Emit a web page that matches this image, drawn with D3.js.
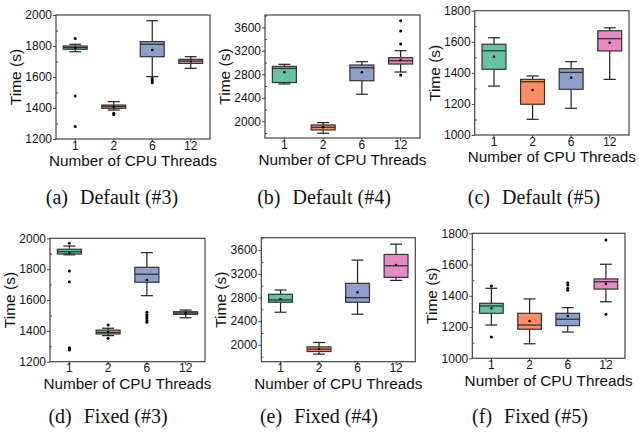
<!DOCTYPE html>
<html><head><meta charset="utf-8">
<script src="https://cdn.jsdelivr.net/npm/d3@7"></script>
<style>
html,body{margin:0;padding:0;background:#fff;}
svg{display:block;}
</style></head>
<body>
<svg id="chart" width="639" height="432"></svg>
<script>
// ---------- DATA ----------
const categories = ["1", "2", "6", "12"];
const boxColors = ["#66c2a5", "#fc8d62", "#8da0cb", "#e78ac3"];

// each entry: lo whisker, q1, median, q3, hi whisker, mean, outliers
const defaultT3 = [
  {lo:1763, q1:1779, med:1790, q3:1800, hi:1811, mean:1786, out:[1848, 1477, 1280]},
  {lo:1387, q1:1398, med:1410, q3:1419, hi:1441, mean:1408, out:[1366, 1357]},
  {lo:1602, q1:1731, med:1811, q3:1828, hi:1963, mean:1774, out:[1590, 1576, 1563]},
  {lo:1656, q1:1688, med:1703, q3:1714, hi:1731, mean:1700, out:[]}
];
const defaultT4 = [
  {lo:2635, q1:2660, med:2900, q3:2935, hi:2970, mean:2834, out:[]},
  {lo:1796, q1:1852, med:1898, q3:1937, hi:1977, mean:1900, out:[]},
  {lo:2460, q1:2691, med:2912, q3:2958, hi:3015, mean:2834, out:[]},
  {lo:2839, q1:2975, med:3031, q3:3083, hi:3202, mean:3040, out:[2788, 3316, 3537, 3712]}
];
const defaultT5 = [
  {lo:1315, q1:1423, med:1542, q3:1584, hi:1626, mean:1504, out:[]},
  {lo:1101, q1:1198, med:1343, q3:1358, hi:1380, mean:1290, out:[]},
  {lo:1172, q1:1294, med:1403, q3:1427, hi:1472, mean:1369, out:[]},
  {lo:1358, q1:1541, med:1620, q3:1671, hi:1690, mean:1594, out:[]}
];
const fixedT3 = [
  {lo:1893, q1:1898, med:1913, q3:1929, hi:1950, mean:1905, out:[1968, 1788, 1719, 1291, 1284, 1276]},
  {lo:1369, q1:1380, med:1390, q3:1405, hi:1417, mean:1392, out:[1438, 1352]},
  {lo:1628, q1:1715, med:1767, q3:1812, hi:1907, mean:1730, out:[1520, 1505, 1492, 1480, 1465, 1455]},
  {lo:1485, q1:1507, med:1516, q3:1524, hi:1535, mean:1515, out:[]}
];
const fixedT4 = [
  {lo:2551, q1:2719, med:2758, q3:2854, hi:2926, mean:2775, out:[]},
  {lo:1843, q1:1887, med:1927, q3:1966, hi:2039, mean:1930, out:[]},
  {lo:2517, q1:2719, med:2797, q3:3039, hi:3432, mean:2887, out:[]},
  {lo:3089, q1:3140, med:3336, q3:3527, hi:3701, mean:3347, out:[]}
];
const fixedT5 = [
  {lo:1213, q1:1288, med:1335, q3:1352, hi:1448, mean:1320, out:[1463, 1136]},
  {lo:1093, q1:1186, med:1213, q3:1288, hi:1380, mean:1239, out:[]},
  {lo:1168, q1:1209, med:1250, q3:1288, hi:1324, mean:1271, out:[1484, 1469, 1448, 1435]},
  {lo:1362, q1:1443, med:1490, q3:1508, hi:1602, mean:1477, out:[1757, 1282]}
];

const ticksT3 = [1200, 1400, 1600, 1800, 2000];
const ticksT4 = [2000, 2400, 2800, 3200, 3600];
const ticksT5 = [1000, 1200, 1400, 1600, 1800];
const minorT3 = [1300, 1500, 1700, 1900];
const minorT4 = [1800, 2200, 2600, 3000, 3400, 3800];
const minorT5 = [1100, 1300, 1500, 1700];
const domainT3 = [1200, 2000];
const domainT4 = [1715, 3810];
const domainT5 = [1000, 1800];

const captions = [
  ["(a)", "Default (#3)"], ["(b)", "Default (#4)"], ["(c)", "Default (#5)"],
  ["(d)", "Fixed (#3)"], ["(e)", "Fixed (#4)"], ["(f)", "Fixed (#5)"]
];
const xTitle = "Number of CPU Threads";
const yTitle = "Time (s)";

// ---------- LAYOUT ----------
const layout = [
  {x0:56,    x1:210,   y0:15,    y1:139,   capX:112, capY:204},
  {x0:265,   x1:420,   y0:15,    y1:138,   capX:324, capY:204},
  {x0:474.7, x1:629,   y0:10.7,  y1:135,   capX:534, capY:204},
  {x0:50,    x1:205,   y0:238.3, y1:361.7, capX:108, capY:423},
  {x0:261.3, x1:415.3, y0:237.7, y1:361.7, capX:319, capY:423},
  {x0:472.3, x1:625,   y0:233.3, y1:358.3, capX:530, capY:423}
];
const panelData = [defaultT3, defaultT4, defaultT5, fixedT3, fixedT4, fixedT5];
const panelTicks = [ticksT3, ticksT4, ticksT5, ticksT3, ticksT4, ticksT5];
const panelMinor = [minorT3, minorT4, minorT5, minorT3, minorT4, minorT5];
const panelDomain = [domainT3, domainT4, domainT5, domainT3, domainT4, domainT5];

const svg = d3.select("#chart");
const sans = "'Liberation Sans', Arial, sans-serif";
const serif = "'Liberation Serif', 'Times New Roman', serif";

panelData.forEach((data, pi) => {
  const L = layout[pi];
  const g = svg.append("g");
  const x = d3.scaleBand().domain(categories).range([L.x0, L.x1]).padding(0);
  const y = d3.scaleLinear().domain(panelDomain[pi]).range([L.y1, L.y0]);
  const bw = x.bandwidth() * 0.62;
  const cx = c => x(c) + x.bandwidth() / 2;

  // boxes
  data.forEach((d, i) => {
    const c = categories[i];
    const xc = cx(c);
    const bg = g.append("g");
    bg.append("line").attr("x1", xc).attr("x2", xc).attr("y1", y(d.q3)).attr("y2", y(d.hi))
      .attr("stroke", "#222").attr("stroke-width", 1.2);
    bg.append("line").attr("x1", xc).attr("x2", xc).attr("y1", y(d.q1)).attr("y2", y(d.lo))
      .attr("stroke", "#222").attr("stroke-width", 1.2);
    [d.hi, d.lo].forEach(v => {
      bg.append("line").attr("x1", xc - bw / 4).attr("x2", xc + bw / 4)
        .attr("y1", y(v)).attr("y2", y(v)).attr("stroke", "#222").attr("stroke-width", 1.2);
    });
    bg.append("rect").attr("x", xc - bw / 2).attr("width", bw)
      .attr("y", y(d.q3)).attr("height", Math.max(1, y(d.q1) - y(d.q3)))
      .attr("fill", boxColors[i]).attr("stroke", "#333").attr("stroke-width", 1.2);
    bg.append("line").attr("x1", xc - bw / 2).attr("x2", xc + bw / 2)
      .attr("y1", y(d.med)).attr("y2", y(d.med)).attr("stroke", "#333").attr("stroke-width", 1.3);
    bg.append("circle").attr("cx", xc).attr("cy", y(d.mean)).attr("r", 1.3).attr("fill", "#000");
    d.out.forEach(v => {
      bg.append("circle").attr("cx", xc).attr("cy", y(v)).attr("r", 1.5).attr("fill", "#000");
    });
  });

  // frame
  g.append("rect").attr("x", L.x0).attr("y", L.y0).attr("width", L.x1 - L.x0).attr("height", L.y1 - L.y0)
    .attr("fill", "none").attr("stroke", "#444").attr("stroke-width", 1.2);

  // y axis
  const ya = g.append("g").attr("transform", `translate(${L.x0},0)`)
    .call(d3.axisLeft(y).tickValues(panelTicks[pi]).tickSize(3).tickPadding(1).tickFormat(d3.format("d")));
  ya.select(".domain").remove();
  ya.selectAll("line").attr("stroke", "#444");
  ya.selectAll("text").attr("font-family", sans).attr("font-size", 12).attr("fill", "#111");
  const ym = g.append("g").attr("transform", `translate(${L.x0},0)`)
    .call(d3.axisRight(y).tickValues(panelMinor[pi].filter(v => v > panelDomain[pi][0] && v < panelDomain[pi][1])).tickSize(2).tickFormat(""));
  ym.select(".domain").remove();
  ym.selectAll("line").attr("stroke", "#444");

  // x axis
  const xa = g.append("g").attr("transform", `translate(0,${L.y1})`)
    .call(d3.axisBottom(x).tickSize(3).tickPadding(-1));
  xa.select(".domain").remove();
  xa.selectAll("line").attr("stroke", "#444");
  xa.selectAll("text").attr("font-family", sans).attr("font-size", 12).attr("fill", "#111");

  // titles
  g.append("text").attr("x", (L.x0 + L.x1) / 2).attr("y", L.y1 + 27.3)
    .attr("text-anchor", "middle").attr("font-family", sans).attr("font-size", 15.3).attr("fill", "#111")
    .text(xTitle);
  g.append("text").attr("transform", `translate(${L.x0 - 35},${(L.y0 + L.y1) / 2}) rotate(-90)`)
    .attr("text-anchor", "middle").attr("font-family", sans).attr("font-size", 15.5).attr("fill", "#111")
    .text(yTitle);

  // caption
  const cap = svg.append("text").attr("x", L.capX).attr("y", L.capY)
    .attr("text-anchor", "middle").attr("font-family", serif).attr("font-size", 20).attr("fill", "#111");
  cap.append("tspan").text(captions[pi][0]);
  cap.append("tspan").attr("dx", "0.6em").text(captions[pi][1]);
});
</script>
</body></html>
